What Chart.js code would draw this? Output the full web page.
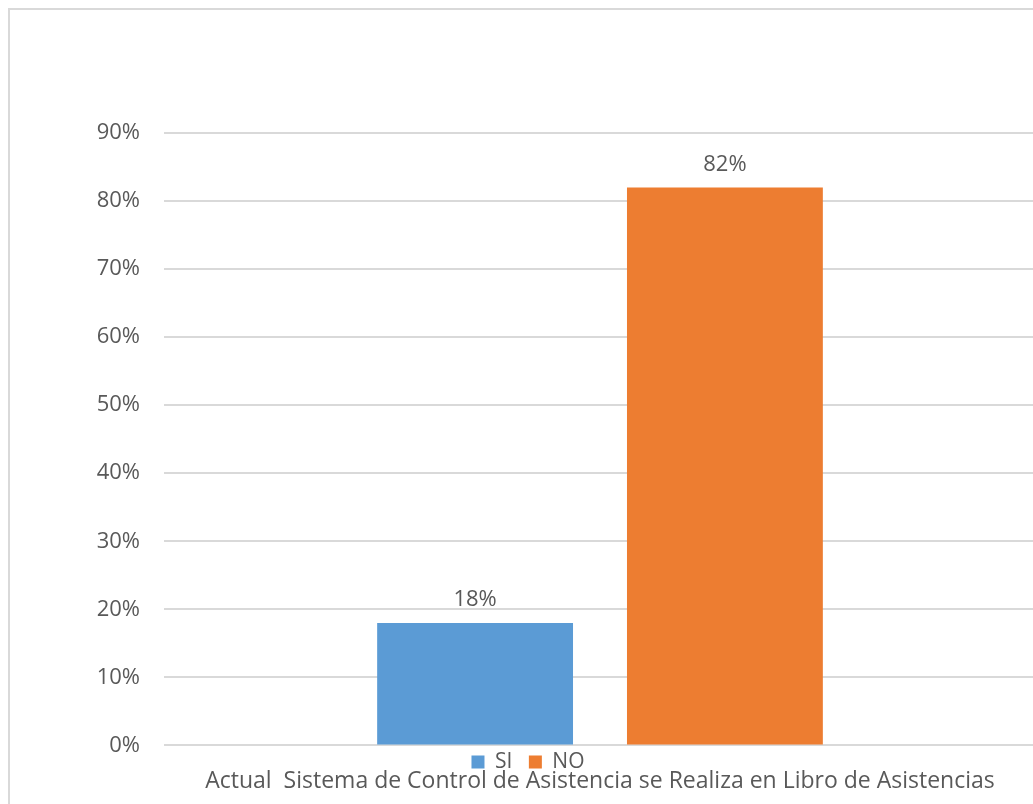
<!DOCTYPE html>
<html>
<head>
<meta charset="utf-8">
<script src="https://cdn.jsdelivr.net/npm/chart.js@4/dist/chart.umd.min.js"></script>
<style>
  html, body { margin: 0; padding: 0; background: #fff; overflow: hidden; }
  #frame {
    position: absolute; left: 8px; top: 8px;
    width: 1100px; height: 900px;
    border: 2px solid #d9d9d9;
  }
  #chart { position: absolute; left: 0; top: 0; }
</style>
</head>
<body>
<div id="frame"></div>
<canvas id="chart" width="1040" height="804"></canvas>
<script>
// --- data ---
const categories = ['Actual  Sistema de Control de Asistencia se Realiza en Libro de Asistencias'];
const seriesNames = ['SI', 'NO'];
const siValues = [0.18];
const noValues = [0.82];
const yTicks = [0, 0.1, 0.2, 0.3, 0.4, 0.5, 0.6, 0.7, 0.8, 0.9];

const FONT = '"Open Sans", Lato, sans-serif';
const TEXT = '#595959';

// value labels above each bar
const barLabels = {
    id: 'barLabels',
    afterDatasetsDraw(chart) {
        const ctx = chart.ctx;
        ctx.save();
        ctx.font = '22px ' + FONT;
        ctx.fillStyle = TEXT;
        ctx.textAlign = 'center';
        ctx.textBaseline = 'bottom';
        chart.data.datasets.forEach((ds, i) => {
            chart.getDatasetMeta(i).data.forEach((bar, j) => {
                const txt = Math.round(ds.data[j] * 100) + '%';
                ctx.fillText(txt, bar.x, bar.y - 12);
            });
        });
        ctx.restore();
    }
};

const ctx = document.getElementById('chart').getContext('2d');
new Chart(ctx, {
    type: 'bar',
    data: {
        labels: categories,
        datasets: [
            { label: seriesNames[0], data: siValues, backgroundColor: '#5b9bd5' },
            { label: seriesNames[1], data: noValues, backgroundColor: '#ed7d31' }
        ]
    },
    options: {
        responsive: false,
        animation: false,
        categoryPercentage: 0.573,
        barPercentage: 0.784,
        layout: { padding: { top: 133, right: 4, bottom: 4, left: 20 } },
        plugins: {
            tooltip: { enabled: false },
            legend: {
                position: 'bottom',
                weight: -1,
                labels: {
                    color: TEXT,
                    font: { family: FONT, size: 21 },
                    boxWidth: 13,
                    boxHeight: 13,
                    padding: 6,
                    generateLabels: (chart) => {
                        const items = Chart.defaults.plugins.legend.labels.generateLabels(chart);
                        // a little extra room after the first entry, as in the original
                        items[0].text = items[0].text + '\u2002';
                        return items;
                    }
                }
            }
        },
        scales: {
            x: {
                grid: { display: false, drawTicks: false },
                border: { display: false },
                ticks: { display: false },
                title: {
                    display: true,
                    text: categories[0],
                    color: TEXT,
                    font: { family: FONT, size: 23 },
                    padding: { top: -15, bottom: 5 }
                }
            },
            y: {
                min: 0,
                max: 0.9,
                afterFit: (s) => { s.width = 144; },
                afterBuildTicks: (s) => { s.ticks = yTicks.map(v => ({ value: v })); },
                grid: { color: '#d9d9d9', lineWidth: 2, drawTicks: false },
                border: { display: false },
                ticks: {
                    color: TEXT,
                    font: { family: FONT, size: 22 },
                    padding: 24,
                    callback: (v) => Math.round(v * 100) + '%'
                }
            }
        }
    },
    plugins: [barLabels]
});
</script>
</body>
</html>
